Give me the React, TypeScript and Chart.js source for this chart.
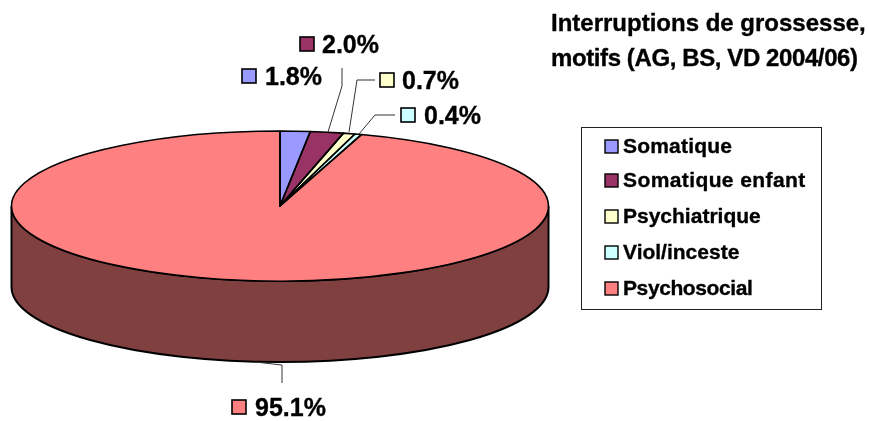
import React, { useEffect, useRef } from "react";
import { Chart, registerables } from "chart.js";

Chart.register(...registerables);

const categories = ["Somatique", "Somatique enfant", "Psychiatrique", "Viol/inceste", "Psychosocial"];
const shares = [1.8, 2.0, 0.7, 0.4, 95.1];
const valueLabels = ["1.8%", "2.0%", "0.7%", "0.4%", "95.1%"];
const titleLines = ["Interruptions de grossesse,", "motifs (AG, BS, VD 2004/06)"];

const topColors = ["#9999FF", "#993366", "#FFFFCC", "#CCFFFF", "#FF8080"];
const sideColors = ["#4D4D80", "#4D1A33", "#808066", "#668080", "#804040"];

const FONT = '"Liberation Sans", Arial, sans-serif';
const CX = 280;
const CY = 206;
const RX = 268.5;
const RY = 75;
const DEPTH = 81;

// Label placement: swatch left, swatch top, text left, and the leader polyline.
const labelLayout = [
  { sx: 242, sy: 69, tx: 265, leader: [] as number[][] },
  { sx: 300, sy: 37, tx: 322, leader: [[342, 68], [342, 86], [328, 132]] },
  { sx: 380, sy: 73, tx: 402, leader: [[375, 80], [357, 80], [349, 132]] },
  { sx: 401, sy: 108, tx: 424, leader: [[395, 115], [375, 115], [359, 134]] },
  { sx: 232, sy: 400, tx: 255, leader: [[282, 383], [282, 365], [255, 362]] },
];
const legendBox = { x: 581, y: 127, w: 240, h: 182 };
const legendRowY = [146, 180, 216, 252, 288];
const legendSpacing = ["0.2px", "0.4px", "0px", "0px", "-0.4px"];
const titleSpacing = ["0px", "-0.4px"];

const heavyText = (ctx: any, text: string, x: number, y: number) => {
  ctx.fillText(text, x, y);
  ctx.strokeStyle = "#000";
  ctx.lineWidth = 0.35;
  ctx.strokeText(text, x, y);
};

const pie3d = {
  id: "pie3d",
  beforeDatasetsDraw(chart: any) {
    const { ctx } = chart;
    const arcs = chart.getDatasetMeta(0).data;
    // Side wall: the part of every slice that lies on the front half of the ellipse.
    arcs.forEach((arc: any, i: number) => {
      const p = arc.getProps(["startAngle", "endAngle"], true);
      const segments = [
        [p.startAngle, p.endAngle],
        [p.startAngle - 2 * Math.PI, p.endAngle - 2 * Math.PI],
      ];
      segments.forEach(([s0, e0]) => {
        const s = Math.max(s0, 0);
        const e = Math.min(e0, Math.PI);
        if (e <= s) return;
        ctx.save();
        ctx.beginPath();
        ctx.ellipse(CX, CY, RX, RY, 0, s, e);
        ctx.ellipse(CX, CY + DEPTH, RX, RY, 0, e, s, true);
        ctx.closePath();
        ctx.fillStyle = sideColors[i];
        ctx.fill();
        ctx.strokeStyle = "#000";
        ctx.lineWidth = 2;
        ctx.stroke();
        ctx.restore();
      });
    });
    const p0 = arcs[0].getProps(["x", "y", "outerRadius"], true);
    ctx.save();
    ctx.translate(CX, CY);
    ctx.scale(RX / p0.outerRadius, RY / p0.outerRadius);
    ctx.translate(-p0.x, -p0.y);
  },
  afterDatasetsDraw(chart: any) {
    const { ctx } = chart;
    ctx.restore();
    const arcs = chart.getDatasetMeta(0).data;
    arcs.forEach((arc: any) => {
      const p = arc.getProps(["x", "y", "startAngle", "endAngle", "outerRadius"], true);
      ctx.save();
      ctx.beginPath();
      ctx.save();
      ctx.translate(CX, CY);
      ctx.scale(RX / p.outerRadius, RY / p.outerRadius);
      ctx.arc(0, 0, p.outerRadius, p.startAngle, p.endAngle);
      ctx.lineTo(0, 0);
      ctx.closePath();
      ctx.restore();
      ctx.strokeStyle = "#000";
      ctx.lineWidth = 1.6;
      ctx.lineJoin = "round";
      ctx.stroke();
      ctx.restore();
    });
  },
  afterDraw(chart: any) {
    const { ctx } = chart;
    ctx.save();
    ctx.textBaseline = "alphabetic";
    ctx.textAlign = "left";

    // Title
    ctx.fillStyle = "#000";
    ctx.font = `bold 24px ${FONT}`;
    titleLines.forEach((line, i) => {
      ctx.letterSpacing = titleSpacing[i];
      heavyText(ctx, line, 551, 31 + i * 35);
    });
    ctx.letterSpacing = "0px";

    // Value labels and leaders
    valueLabels.forEach((label, i) => {
      const l = labelLayout[i];
      if (l.leader.length) {
        ctx.beginPath();
        l.leader.forEach(([x, y], k) => (k ? ctx.lineTo(x, y) : ctx.moveTo(x, y)));
        ctx.strokeStyle = "#333";
        ctx.lineWidth = 1;
        ctx.stroke();
      }
      ctx.fillStyle = topColors[i];
      ctx.fillRect(l.sx, l.sy, 14, 14);
      ctx.strokeStyle = "#000";
      ctx.lineWidth = 1.6;
      ctx.strokeRect(l.sx, l.sy, 14, 14);
      ctx.fillStyle = "#000";
      ctx.font = `bold 25px ${FONT}`;
      heavyText(ctx, label, l.tx, l.sy + 16);
    });

    // Legend
    ctx.strokeStyle = "#222";
    ctx.lineWidth = 1;
    ctx.strokeRect(legendBox.x + 0.5, legendBox.y + 0.5, legendBox.w, legendBox.h);
    ctx.font = `bold 21px ${FONT}`;
    categories.forEach((cat, i) => {
      const y = legendRowY[i];
      ctx.fillStyle = topColors[i];
      ctx.fillRect(605, y - 6, 13, 13);
      ctx.strokeStyle = "#000";
      ctx.lineWidth = 1.4;
      ctx.strokeRect(605, y - 6, 13, 13);
      ctx.fillStyle = "#000";
      ctx.letterSpacing = legendSpacing[i];
      heavyText(ctx, cat, 623, y + 7);
      ctx.letterSpacing = "0px";
    });
    ctx.restore();
  },
};

export default function App() {
  const ref = useRef<HTMLCanvasElement>(null);
  useEffect(() => {
    const chart = new Chart(ref.current!, {
      type: "pie",
      data: {
        labels: categories,
        datasets: [{ data: shares, backgroundColor: topColors, borderWidth: 0, clip: false } as any],
      },
      options: {
        animation: false,
        responsive: false,
        layout: { padding: 0 },
        plugins: { legend: { display: false }, title: { display: false }, tooltip: { enabled: false } },
      },
      plugins: [pie3d],
    } as any);
    return () => chart.destroy();
  }, []);
  return (
    <div style={{ position: "absolute", left: 0, top: 0, width: 869, height: 421, background: "#fff" }}>
      <canvas ref={ref} width={869} height={421} style={{ display: "block" }} />
    </div>
  );
}
